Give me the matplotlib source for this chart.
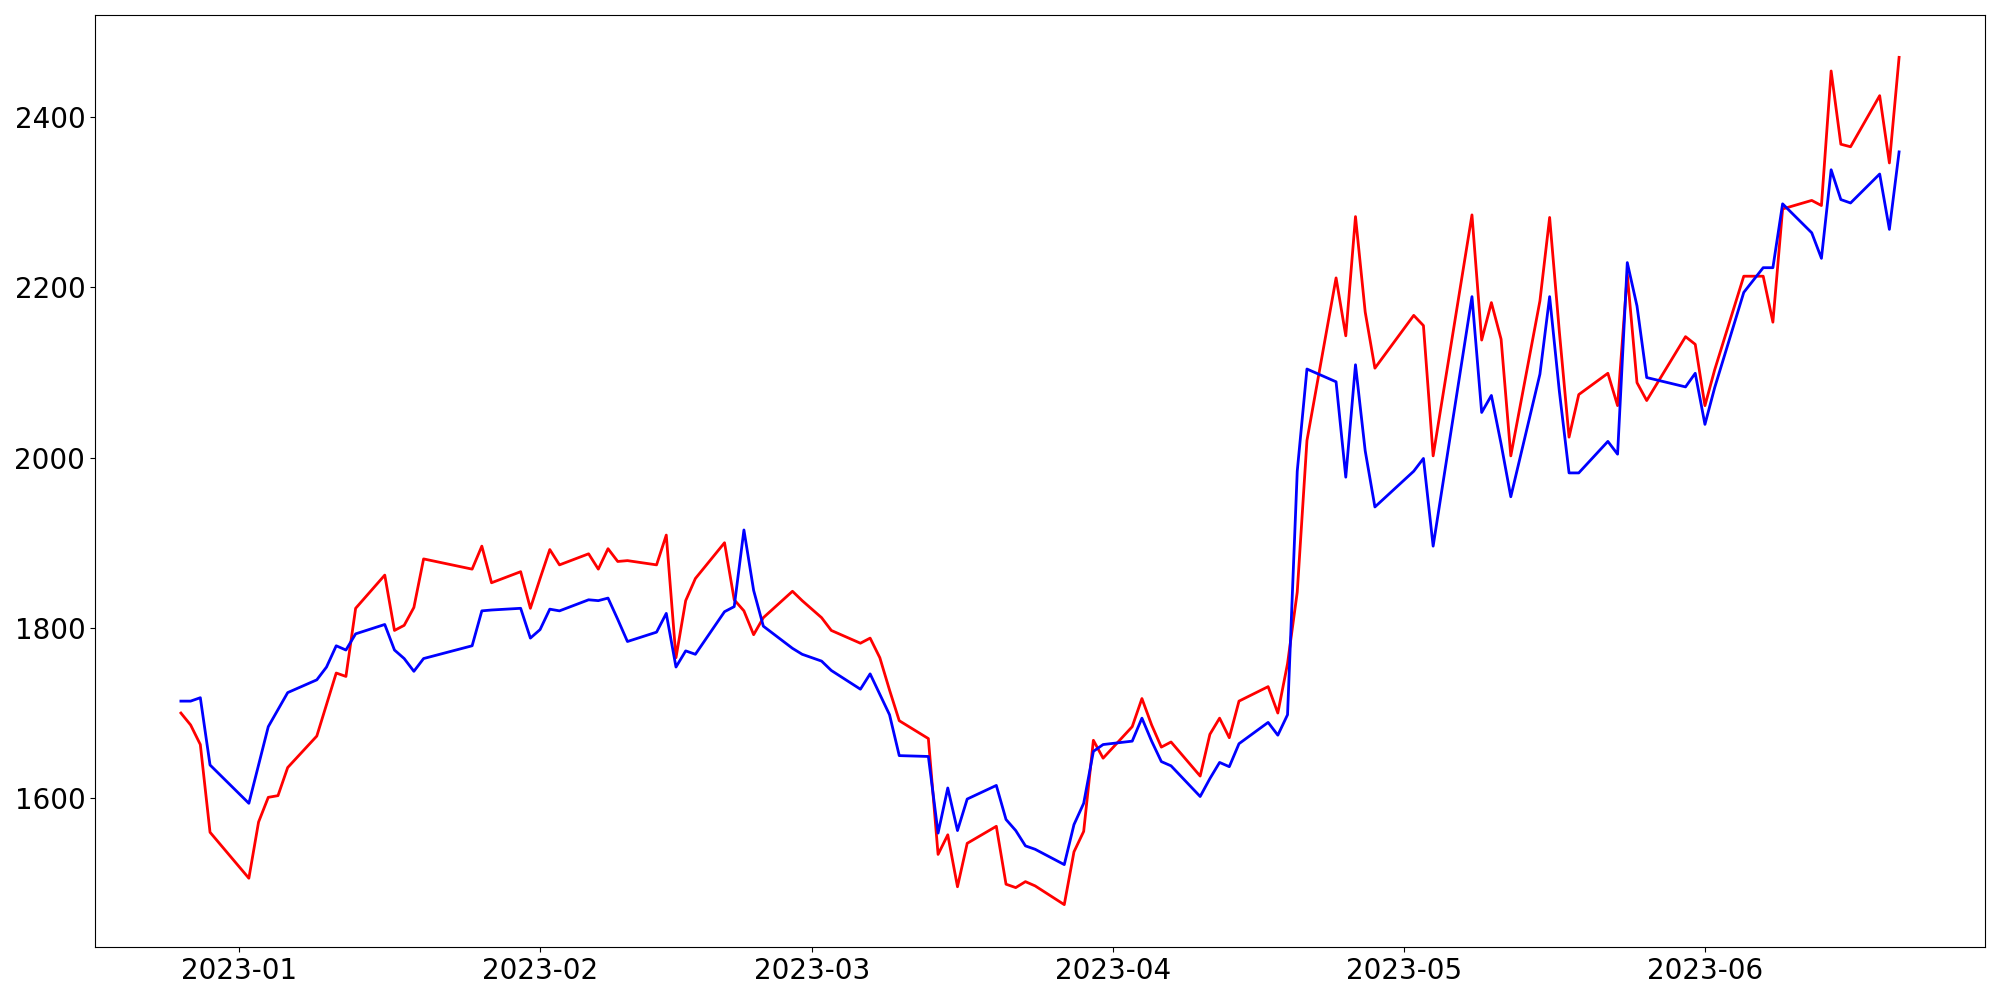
import numpy as np
import pandas as pd
import matplotlib
matplotlib.use("Agg")
import matplotlib.pyplot as plt

# trading days (KRX calendar), 2022-12-26 .. 2023-06-21
closed_days = ["2022-12-30", "2023-01-23", "2023-01-24", "2023-03-01",
               "2023-05-01", "2023-05-05", "2023-05-29", "2023-06-06"]
dates = pd.bdate_range("2022-12-26", "2023-06-21")
dates = dates[~dates.isin(pd.to_datetime(closed_days))]

red_vals = [
    1700, 1686, 1663, 1560,
    1506, 1572, 1601, 1603, 1636,
    1673, 1710, 1747, 1743, 1823,
    1862, 1797, 1803, 1824, 1881,
    1869, 1896, 1853,
    1866, 1823,
    1858, 1892, 1874,
    1887, 1869, 1893, 1878, 1879,
    1874, 1909, 1765, 1832, 1858,
    1900, 1833, 1820, 1792, 1812,
    1843, 1832,
    1812, 1797,
    1782, 1788, 1765, 1727, 1691,
    1670, 1534, 1557, 1496, 1547,
    1567, 1499, 1495, 1502, 1497,
    1475, 1537, 1561, 1668, 1647,
    1684, 1717, 1686, 1660, 1666,
    1626, 1675, 1694, 1671, 1714,
    1731, 1700, 1758, 1842, 2020,
    2211, 2143, 2283, 2171, 2105,
    2167, 2155, 2002,
    2285, 2138, 2182, 2139, 2002,
    2184, 2282, 2148, 2024, 2074,
    2099, 2061, 2215, 2088, 2067,
    2142, 2133,
    2061, 2103,
    2213,
    2213, 2159, 2292,
    2302, 2296, 2454, 2368, 2365,
    2425, 2346, 2470,
]

blue_vals = [
    1714, 1714, 1718, 1639,
    1594, 1639, 1684, 1704, 1724,
    1739, 1754, 1779, 1774, 1793,
    1804, 1774, 1764, 1749, 1764,
    1779, 1820, 1821,
    1823, 1788,
    1798, 1822, 1820,
    1833, 1832, 1835, 1810, 1784,
    1795, 1817, 1754, 1773, 1769,
    1819, 1825, 1915, 1844, 1802,
    1776, 1769,
    1761, 1750,
    1728, 1746, 1722, 1698, 1650,
    1649, 1559, 1612, 1562, 1599,
    1615, 1575, 1562, 1544, 1540,
    1522, 1569, 1594, 1655, 1663,
    1667, 1694, 1667, 1643, 1638,
    1602, 1623, 1642, 1637, 1664,
    1689, 1674, 1698, 1984, 2104,
    2089, 1977, 2109, 2008, 1942,
    1984, 1999, 1896,
    2189, 2053, 2073, 2016, 1954,
    2098, 2189, 2078, 1982, 1982,
    2019, 2004, 2229, 2178, 2094,
    2083, 2099,
    2039, 2082,
    2194,
    2223, 2223, 2298,
    2264, 2234, 2338, 2303, 2299,
    2333, 2268, 2359,
]

plt.figure(figsize=(20, 10), dpi=100)
plt.plot(dates, red_vals, "-", color="red", linewidth=2)
plt.plot(dates, blue_vals, "-", color="blue", linewidth=2)
plt.xticks(fontsize=20)
plt.yticks(fontsize=20)
plt.subplots_adjust(left=0.0475, right=0.9925, top=0.985, bottom=0.053)
plt.savefig("out.png")
